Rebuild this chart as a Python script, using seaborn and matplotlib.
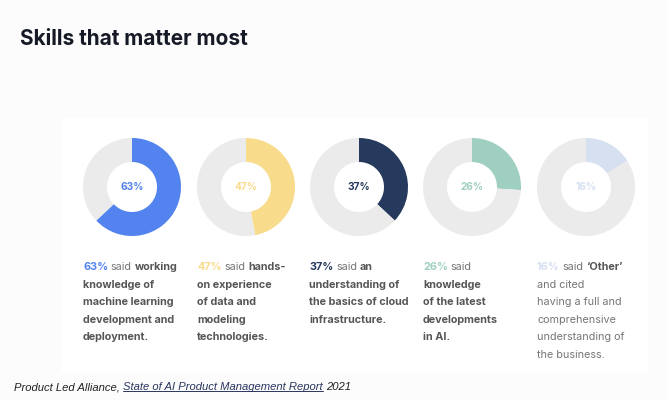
import matplotlib
matplotlib.use("Agg")
import matplotlib.pyplot as plt
import seaborn as sns
from matplotlib.lines import Line2D

sns.set_theme(style="white")
plt.rcParams['font.family'] = ['Inter', 'DejaVu Sans']

# Data
skills = ["ML development", "Data & modeling", "Cloud basics", "Latest AI", "Other"]
shares = [63, 47, 37, 26, 16]
ring_colors = ["#5283ee", "#f8dc8c", "#253a5c", "#9fcfc1", "#d6e0f1"]

# text blocks: list of lines, each line a list of (text, style)
# style: 'p' = percent (coloured bold), 'b' = bold, 'r' = regular
captions = [
    [[("63%", "p"), ("said", "r"), ("working", "b")],
     [("knowledge of", "b")],
     [("machine learning", "b")],
     [("development and", "b")],
     [("deployment.", "b")]],
    [[("47%", "p"), ("said", "r"), ("hands-", "b")],
     [("on experience", "b")],
     [("of data and", "b")],
     [("modeling", "b")],
     [("technologies.", "b")]],
    [[("37%", "p"), ("said", "r"), ("an", "b")],
     [("understanding of", "b")],
     [("the basics of cloud", "b")],
     [("infrastructure.", "b")]],
    [[("26%", "p"), ("said", "r")],
     [("knowledge", "b")],
     [("of the latest", "b")],
     [("developments", "b")],
     [("in AI.", "b")]],
    [[("16%", "p"), ("said", "r"), ("\u2018Other\u2019", "b")],
     [("and cited", "r")],
     [("having a full and", "r")],
     [("comprehensive", "r")],
     [("understanding of", "r")],
     [("the business.", "r")]],
]

W, H = 668, 400
fig = plt.figure(figsize=(W / 100, H / 100), dpi=100)
fig.patch.set_facecolor("#fcfcfc")
ax = fig.add_axes([0, 0, 1, 1])
ax.set_facecolor("#fcfcfc")

# white panel
ax.add_patch(plt.Rectangle((62, H - 372), 586, 254, facecolor="white", edgecolor="none", zorder=0))

centers_x = [132, 246, 359, 472, 586]
cy = H - 187
text_x = [83, 197, 309, 423, 537]
grey_ring = "#ebebeb"
bold_col = "#565656"
reg_col = "#767676"

for cx, v, col in zip(centers_x, shares, ring_colors):
    ax.pie([v, 100 - v], colors=[col, grey_ring], startangle=90, counterclock=False,
           center=(cx, cy), radius=49, wedgeprops=dict(width=24, linewidth=0))
    ax.text(cx, cy, f"{v}%", ha="center", va="center", fontsize=7.3,
            fontweight="bold", color=col)

for tx, col, lines in zip(text_x, ring_colors, captions):
    for i, line in enumerate(lines):
        y = H - 272 - i * 17.6
        prev = None
        for txt, st in line:
            color = col if st == "p" else (bold_col if st == "b" else reg_col)
            weight = "normal" if st == "r" else "bold"
            if prev is None:
                prev = ax.text(tx, y, txt, ha="left", va="bottom", fontsize=7.8,
                               fontweight=weight, color=color)
            else:
                prev = ax.annotate(txt, xy=(1, 0), xycoords=prev, xytext=(2.0, 0),
                                   textcoords="offset points", ha="left", va="bottom",
                                   fontsize=7.8, fontweight=weight, color=color)

ax.text(20, H - 39, "Skills that matter most", ha="left", va="center", fontsize=15,
        fontweight="bold", color="#151a26")

cap_kw = dict(fontsize=8.1, fontstyle="italic", family="Liberation Sans")
c1 = ax.text(14, H - 392, "Product Led Alliance,", color="#222222", ha="left",
             va="bottom", **cap_kw)
c2 = ax.annotate("State of AI Product Management Report", xy=(1, 0), xycoords=c1,
                 xytext=(2.5, 0), textcoords="offset points", color="#2a3560",
                 ha="left", va="bottom", **cap_kw)
c3 = ax.annotate("2021", xy=(1, 0), xycoords=c2, xytext=(2.5, 0), textcoords="offset points",
                 color="#222222", ha="left", va="bottom", **cap_kw)

ax.set_xlim(0, W)
ax.set_ylim(0, H)
ax.set_aspect("equal")
ax.axis("off")

# underline the report title
fig.canvas.draw()
bb = c2.get_window_extent().transformed(ax.transData.inverted())
ax.add_line(Line2D([bb.x0, bb.x1], [bb.y0 + 1.2, bb.y0 + 1.2], color="#2a3560", linewidth=0.7))

fig.savefig("out.png", dpi=100, facecolor=fig.get_facecolor())
